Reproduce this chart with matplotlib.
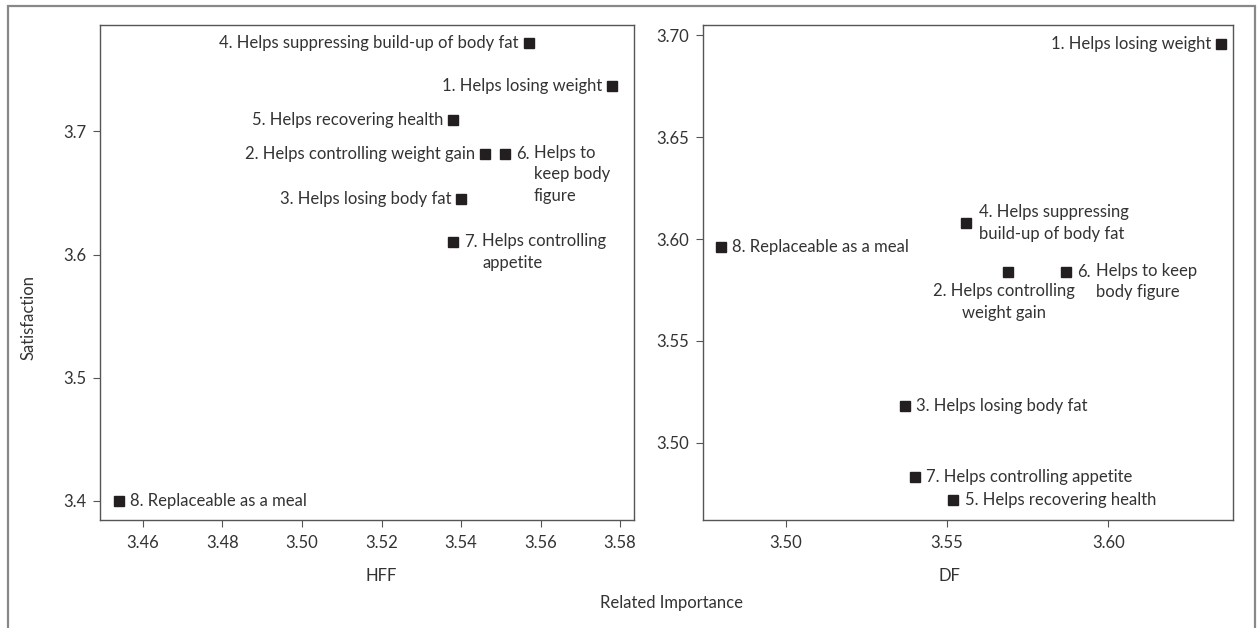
import matplotlib.pyplot as plt
from matplotlib.patches import Rectangle

plt.rcParams['font.family'] = ['Lato', 'DejaVu Sans']

W, H = 1257, 628
TXT = '#333333'
EDGE = '#555555'

# attribute numbers and wording
numbers = ["1.", "2.", "3.", "4.", "5.", "6.", "7.", "8."]

# HFF panel: related importance (x) vs satisfaction (y)
hff_importance = [3.578, 3.546, 3.540, 3.557, 3.538, 3.551, 3.538, 3.454]
hff_satisfaction = [3.737, 3.682, 3.645, 3.772, 3.709, 3.682, 3.610, 3.400]
hff_text = ["Helps losing weight", "Helps controlling weight gain",
            "Helps losing body fat", "Helps suppressing build-up of body fat",
            "Helps recovering health", "Helps to\nkeep body\nfigure",
            "Helps controlling\nappetite", "Replaceable as a meal"]

# DF panel
df_importance = [3.635, 3.569, 3.537, 3.556, 3.552, 3.587, 3.540, 3.480]
df_satisfaction = [3.696, 3.584, 3.518, 3.608, 3.472, 3.584, 3.483, 3.596]
df_text = ["Helps losing weight", "Helps controlling\nweight gain",
           "Helps losing body fat", "Helps suppressing\nbuild-up of body fat",
           "Helps recovering health", "Helps to keep\nbody figure",
           "Helps controlling appetite", "Replaceable as a meal"]

hff_xticks = [3.46, 3.48, 3.50, 3.52, 3.54, 3.56, 3.58]
hff_yticks = [3.4, 3.5, 3.6, 3.7]
df_xticks = [3.50, 3.55, 3.60]
df_yticks = [3.50, 3.55, 3.60, 3.65, 3.70]

# label placement: 'L' left of marker, 'R' right, 'H' right with hanging indent,
# 'RB' right block centred, 'B' centred below
hff_place = ['L', 'L', 'L', 'L', 'L', 'H', 'H', 'R']
df_place = ['L', 'B', 'R', 'RB', 'R', 'H', 'R', 'R']

FS = 12


def px(x0, y0, x1, y1):
    return [x0 / W, 1 - y1 / H, (x1 - x0) / W, (y1 - y0) / H]


def label_points(ax, xs, ys, texts, places):
    for x, y, num, t, p in zip(xs, ys, numbers, texts, places):
        kw = dict(xy=(x, y), textcoords='offset points', fontsize=FS,
                  color=TXT, linespacing=1.45)
        if p == 'L':
            ax.annotate(num + ' ' + t, xytext=(-7, 0), ha='right', va='center', **kw)
        elif p == 'R':
            ax.annotate(num + ' ' + t, xytext=(8, 0), ha='left', va='center', **kw)
        elif p == 'RB':
            ax.annotate(num + ' ' + t, xytext=(9, 0), ha='left', va='center', **kw)
        elif p == 'H':
            ax.annotate(num, xytext=(8, 0), ha='left', va='center', **kw)
            ax.annotate(t, xytext=(21, 6.5), ha='left', va='top', **kw)
        elif p == 'B':
            ax.annotate(num + ' ' + t, xytext=(-3, -8), ha='center', va='top', **kw)


def style(ax, xt, yt, xfmt, yfmt):
    ax.set_xticks(xt)
    ax.set_xticklabels([xfmt % v for v in xt])
    ax.set_yticks(yt)
    ax.set_yticklabels([yfmt % v for v in yt])
    for s in ax.spines.values():
        s.set_color(EDGE)
        s.set_linewidth(1.0)
    ax.tick_params(direction='out', length=5, width=0.8, color=EDGE,
                   labelsize=FS, labelcolor=TXT)
    ax.tick_params(axis='x', pad=6)
    ax.tick_params(axis='y', pad=5)


fig = plt.figure(figsize=(W / 100, H / 100), dpi=100)

ax1 = fig.add_axes(px(100, 25, 634, 520))
ax1.plot(hff_importance, hff_satisfaction, 's', color='#231f20', markersize=7, linestyle='none')
ax1.set_xlim(3.4492, 3.5835)
ax1.set_ylim(3.3843, 3.7865)
style(ax1, hff_xticks, hff_yticks, '%.2f', '%.1f')
label_points(ax1, hff_importance, hff_satisfaction, hff_text, hff_place)

ax2 = fig.add_axes(px(703, 25, 1233, 520))
ax2.plot(df_importance, df_satisfaction, 's', color='#231f20', markersize=7, linestyle='none')
ax2.set_xlim(3.4744, 3.6386)
ax2.set_ylim(3.4620, 3.7051)
style(ax2, df_xticks, df_yticks, '%.2f', '%.2f')
label_points(ax2, df_importance, df_satisfaction, df_text, df_place)

# axis titles
fig.text(381 / W, 1 - 576 / H, 'HFF', ha='center', va='center', fontsize=FS, color=TXT)
fig.text(949 / W, 1 - 576 / H, 'DF', ha='center', va='center', fontsize=FS, color=TXT)
fig.text(671 / W, 1 - 603 / H, 'Related Importance', ha='center', va='center', fontsize=FS, color=TXT)
fig.text(29 / W, 1 - 317 / H, 'Satisfaction', ha='center', va='center', rotation=90,
         fontsize=FS, color=TXT)

# outer frame, open at the bottom
fig.add_artist(Rectangle((8 / W, -0.1), 1247 / W, 1.1 - 6 / H, transform=fig.transFigure,
                         fill=False, edgecolor='#888888', linewidth=1.6))

fig.savefig('out.png', dpi=100)
